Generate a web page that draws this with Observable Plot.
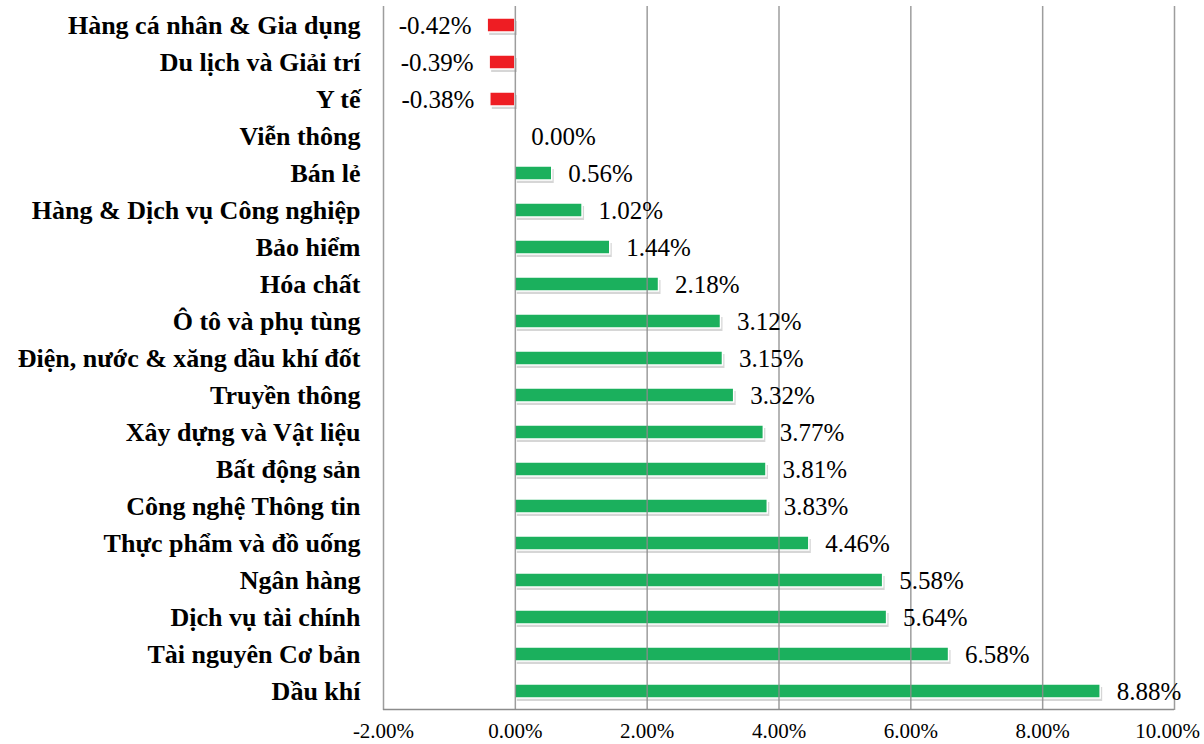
<!DOCTYPE html>
<html>
<head>
<meta charset="utf-8">
<script src="https://cdn.jsdelivr.net/npm/d3@7"></script>
<script src="https://cdn.jsdelivr.net/npm/@observablehq/plot@0.6"></script>
<style>
  html, body { margin: 0; padding: 0; background: #fff; overflow: hidden; }
  #chart svg { display: block; }
</style>
</head>
<body>
<div id="chart"></div>
<script>
const categories = [
  "Hàng cá nhân & Gia dụng",
  "Du lịch và Giải trí",
  "Y tế",
  "Viễn thông",
  "Bán lẻ",
  "Hàng & Dịch vụ Công nghiệp",
  "Bảo hiểm",
  "Hóa chất",
  "Ô tô và phụ tùng",
  "Điện, nước & xăng dầu khí đốt",
  "Truyền thông",
  "Xây dựng và Vật liệu",
  "Bất động sản",
  "Công nghệ Thông tin",
  "Thực phẩm và đồ uống",
  "Ngân hàng",
  "Dịch vụ tài chính",
  "Tài nguyên Cơ bản",
  "Dầu khí"
];
const values = [-0.42, -0.39, -0.38, 0.00, 0.56, 1.02, 1.44, 2.18, 3.12, 3.15, 3.32, 3.77, 3.81, 3.83, 4.46, 5.58, 5.64, 6.58, 8.88];
const xTicks = [-2, 0, 2, 4, 6, 8, 10];

const data = categories.map((c, i) => ({cat: c, v: values[i]}));
const serif = "'Liberation Serif', 'Times New Roman', serif";
const fmt = d => d.toFixed(2) + "%";

const chart = Plot.plot({
  width: 1204,
  height: 744,
  marginLeft: 383,
  marginRight: 30,
  marginTop: 6,
  marginBottom: 34,
  style: {fontFamily: serif, background: "#fff"},
  x: {domain: [-2, 10], ticks: xTicks, label: null},
  y: {domain: categories, paddingInner: 0.62, paddingOuter: 0.31, label: null},
  marks: [
    // soft shadow
    Plot.barX(data.filter(d => d.v !== 0), {x: "v", y: "cat", fill: "#000", fillOpacity: 0.16, dx: 2, dy: 3}),
    Plot.barX(data.filter(d => d.v !== 0), {x: "v", y: "cat", fill: d => d.v < 0 ? "#ee1d23" : "#1bb05d", stroke: "#fff", strokeWidth: 1.5}),
    Plot.ruleX(xTicks, {stroke: "#8c8c8c", strokeWidth: 1.5, strokeOpacity: 0.85}),
    Plot.axisX({ticks: xTicks.slice(0, -1), label: null, tickSize: 0, tickPadding: 13, fontSize: 21, fill: "#000", tickFormat: fmt, fontFamily: serif}),
    Plot.axisX({ticks: xTicks.slice(-1), label: null, tickSize: 0, tickPadding: 13, fontSize: 21, fill: "#000", tickFormat: fmt, fontFamily: serif, dx: -7}),
    Plot.axisY({label: null, tickSize: 0, tickPadding: 23, fontSize: 26, fontWeight: "bold", fill: "#000", fontFamily: serif}),
    Plot.text(data.filter(d => d.v >= 0), {x: "v", y: "cat", text: d => fmt(d.v), textAnchor: "start", dx: 16, fontSize: 25, fill: "#000", fontFamily: serif}),
    Plot.text(data.filter(d => d.v < 0), {x: "v", y: "cat", text: d => fmt(d.v), textAnchor: "end", dx: -16, fontSize: 25, fill: "#000", fontFamily: serif})
  ]
});

// bottom frame line
const svg = d3.select(chart);
svg.append("line")
  .attr("x1", 383).attr("x2", 1174)
  .attr("y1", 709.5).attr("y2", 709.5)
  .attr("stroke", "#8c8c8c").attr("stroke-width", 1.5);

document.getElementById("chart").appendChild(chart);
</script>
</body>
</html>
